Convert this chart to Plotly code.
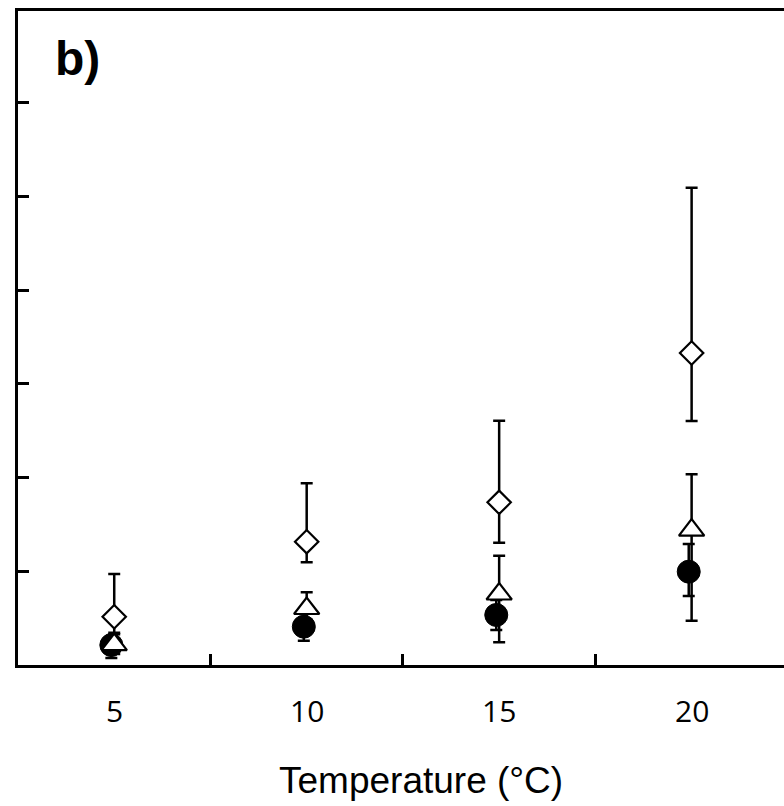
import plotly.graph_objects as go

# Data (y in arbitrary axis units; one tick = 1 unit)
temps = ["5", "10", "15", "20"]
xpos = [0, 1, 2, 3]

diamond_y = [0.515, 1.316, 1.736, 3.330]
diamond_up = [0.456, 0.623, 0.871, 1.764]
diamond_dn = [0.170, 0.220, 0.431, 0.726]

triangle_y = [0.217, 0.603, 0.758, 1.440]
triangle_up = [0.111, 0.173, 0.408, 0.595]
triangle_dn = [0.100, 0.120, 0.516, 0.967]

circle_y = [0.213, 0.409, 0.534, 0.996]
circle_up = [0.090, 0.140, 0.160, 0.295]
circle_dn = [0.138, 0.150, 0.160, 0.260]

circle_offset = -0.015

def err(up, dn):
    return dict(type="data", symmetric=False, array=up, arrayminus=dn,
                color="black", thickness=2.5, width=6)

fig = go.Figure()
fig.add_trace(go.Scatter(
    x=[v + circle_offset for v in xpos], y=circle_y, mode="markers",
    marker=dict(symbol="circle", size=23, color="black", line=dict(color="black", width=1)),
    error_y=err(circle_up, circle_dn), showlegend=False))
fig.add_trace(go.Scatter(
    x=xpos, y=triangle_y, mode="markers",
    marker=dict(symbol="triangle-up", size=22, color="white", line=dict(color="black", width=2.2)),
    error_y=err(triangle_up, triangle_dn), showlegend=False))
fig.add_trace(go.Scatter(
    x=xpos, y=diamond_y, mode="markers",
    marker=dict(symbol="diamond", size=18, color="white", line=dict(color="black", width=2.2)),
    error_y=err(diamond_up, diamond_dn), showlegend=False))

for xv, lab in zip(xpos, temps):
    fig.add_annotation(x=xv, y=-0.069, xref="x", yref="paper", text=lab, showarrow=False,
                       xanchor="center", yanchor="middle",
                       font=dict(family="Open Sans", size=30, color="black"))

fig.add_annotation(x=0.5, y=-0.177, xref="paper", yref="paper", text="Temperature (°C)",
                   showarrow=False, xanchor="center", yanchor="middle", xshift=20,
                   font=dict(family="Liberation Sans, Arial", size=37, color="black"))

fig.add_annotation(x=0.0457, y=0.928, xref="paper", yref="paper", text="<b>b)</b>",
                   showarrow=False, xanchor="left", yanchor="middle",
                   font=dict(family="Liberation Sans, Arial", size=48, color="black"))

fig.update_xaxes(range=[-0.5, 3.48], showgrid=False, zeroline=False,
                 showline=True, linecolor="black", linewidth=3, mirror=True,
                 tickvals=[0.5, 1.5, 2.5], ticktext=["", "", ""],
                 ticks="inside", ticklen=11, tickwidth=2.5, tickcolor="black")
fig.update_yaxes(range=[0, 6.98], showgrid=False, zeroline=False,
                 showline=True, linecolor="black", linewidth=3,
                 tickvals=[1, 2, 3, 4, 5, 6], ticktext=[""] * 6,
                 ticks="inside", ticklen=11, tickwidth=2.5, tickcolor="black")

fig.update_layout(width=784, height=806, plot_bgcolor="white", paper_bgcolor="white",
                  margin=dict(l=18, r=0, t=11, b=141), showlegend=False)

fig.write_html("out.html")
